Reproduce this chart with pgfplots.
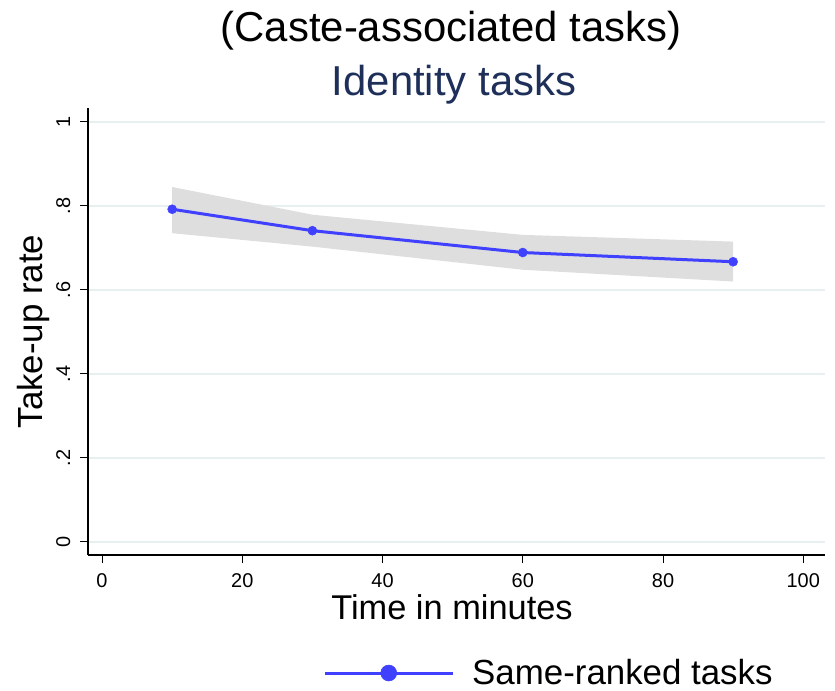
\documentclass[border=0pt]{standalone}
\usepackage{pgfplots}
\pgfplotsset{compat=1.18}
\usepackage{fontspec}
\setmainfont{Liberation Sans}
\definecolor{stblue}{RGB}{64,64,255}
\definecolor{bandgray}{RGB}{222,222,222}
\definecolor{gridc}{RGB}{232,239,241}
\definecolor{subt}{RGB}{30,48,90}
\begin{document}
\begin{tikzpicture}
\path[use as bounding box] (-88bp,-136bp) rectangle (747bp,555bp);
\begin{axis}[
  at={(0,0)}, anchor=south west,
  scale only axis, width=737bp, height=447bp,
  xmin=-2, xmax=103.1, ymin=-0.031, ymax=1.033,
  axis lines=left, axis line style={line width=1.2bp, -, black},
  xtick={0,20,40,60,80,100}, xticklabels={0,20,40,60,80,100},
  ytick={0,0.2,0.4,0.6,0.8,1}, yticklabels={0,.2,.4,.6,.8,1},
  tick align=outside, major tick length=8bp,
  tick style={line width=1bp, black},
  ymajorgrids, grid style={gridc, line width=1.5bp},
  /pgf/number format/assume math mode=true,
  tick label style={font=\fontsize{20}{20}\selectfont},
  xticklabel style={anchor=base, inner sep=0pt, yshift=-24bp},
  yticklabel style={xshift=-10bp, rotate=90, anchor=base, inner sep=0pt},
  xlabel={Time in minutes},
  xlabel style={at={(axis description cs:0.4939,0)}, anchor=base, yshift=-64bp, font=\fontsize{34.5}{34.5}\selectfont},
  ylabel={Take-up rate},
  ylabel style={at={(axis description cs:-0.0611,0.5)}, anchor=base, font=\fontsize{35}{35}\selectfont},
  legend style={at={(axis description cs:0.3189,-0.264)}, anchor=west, draw=none, fill=none, inner sep=0pt, font=\fontsize{35}{35}\selectfont, column sep=16bp},
  legend image code/.code={\draw[#1, line width=3bp, mark size=8bp, mark repeat=2, mark phase=2] plot coordinates {(0bp,0bp) (64bp,0bp) (128bp,0bp)};},
]
\addplot[fill=bandgray, draw=none, forget plot] coordinates {
  (10,0.845) (30,0.779) (60,0.731) (90,0.715)
  (90,0.620) (60,0.648) (30,0.703) (10,0.735)} -- cycle;
\addplot[stblue, line width=3bp, mark=*, mark size=4.5bp, mark options={fill=stblue, draw=stblue, line width=0.5bp}]
  coordinates {(10,0.792) (30,0.741) (60,0.689) (90,0.667)};
\addlegendentry{Same-ranked tasks}
\end{axis}
\node[anchor=base, font=\fontsize{42}{42}\selectfont] at (363bp,513bp) {(Caste-associated tasks)};
\node[anchor=base, font=\fontsize{42}{42}\selectfont, text=subt] at (366bp,459bp) {Identity tasks};
\end{tikzpicture}
\end{document}
